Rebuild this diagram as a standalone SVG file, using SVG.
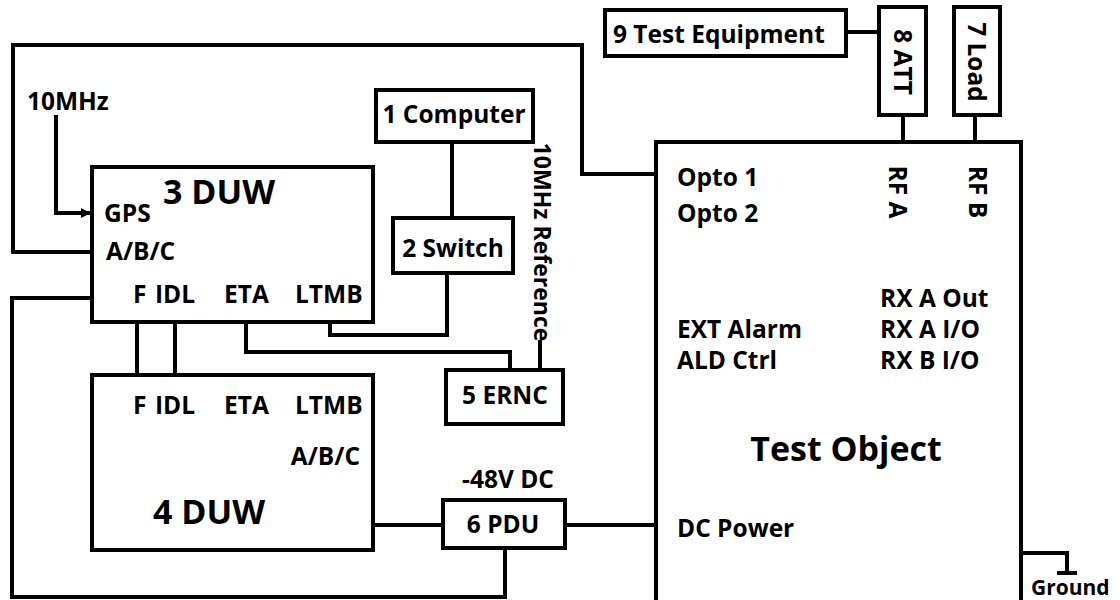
<svg xmlns="http://www.w3.org/2000/svg" width="1120" height="600" viewBox="0 0 1120 600">
<defs>
<style>
.box{fill:#fff;stroke:#000;stroke-width:4}
.ln{fill:none;stroke:#000;stroke-width:4}
text{font-family:"Open Sans","Noto Sans","DejaVu Sans",sans-serif;font-weight:bold;fill:#000}
.lb{font-size:24.5px}
.rt{font-size:23px}
.big{font-size:34px}
</style>
<marker id="arr" markerWidth="10" markerHeight="10" refX="9" refY="5" orient="auto" markerUnits="userSpaceOnUse">
<path d="M0,0 L10,5 L0,10 z" fill="#000"/>
</marker>
</defs>
<rect width="1120" height="600" fill="#fff"/>
<g id="connectors">
<path class="ln" d="M92,252 H13 V45 H582 V174 H656"/>
<path class="ln" d="M56,115 V213 H90" marker-end="url(#arr)"/>
<path class="ln" d="M92,298 H12 V597 H505 V548"/>
<path class="ln" d="M137,322 V375"/>
<path class="ln" d="M175,322 V375"/>
<path class="ln" d="M246,322 V352 H510 V370"/>
<path class="ln" d="M330,322 V335 H447 V273"/>
<path class="ln" d="M452,142 V218"/>
<path class="ln" d="M540,370 V340"/>
<path class="ln" d="M373,525 H443"/>
<path class="ln" d="M565,525 H656"/>
<path class="ln" d="M846,32 H879"/>
<path class="ln" d="M903,115 V142"/>
<path class="ln" d="M975,115 V142"/>
<path class="ln" d="M1021,553 H1067 V573"/>
<path class="ln" d="M1057,573 H1077"/>
</g>
<g id="n3duw">
<rect class="box" x="92" y="167" width="281" height="155"/>
<text class="big" x="163" y="204">3 DUW</text>
<text class="lb" x="104" y="222">GPS</text>
<text class="lb" x="106" y="260">A/B/C</text>
<text class="lb" x="133" y="303">F</text>
<text class="lb" x="155" y="303">IDL</text>
<text class="lb" x="224" y="303">ETA</text>
<text class="lb" x="295" y="303">LTMB</text>
</g>
<g id="n4duw">
<rect class="box" x="92" y="375" width="281" height="175"/>
<text class="lb" x="133" y="414">F</text>
<text class="lb" x="155" y="414">IDL</text>
<text class="lb" x="224" y="414">ETA</text>
<text class="lb" x="295" y="414">LTMB</text>
<text class="lb" x="360" y="465" text-anchor="end">A/B/C</text>
<text class="big" x="153" y="524">4 DUW</text>
</g>
<g id="n10mhz">
<text class="lb" x="27" y="110">10MHz</text>
</g>
<g id="n1computer">
<rect class="box" x="376" y="90" width="157" height="52"/>
<text class="lb" x="454" y="123" text-anchor="middle">1 Computer</text>
</g>
<g id="n2switch">
<rect class="box" x="393" y="218" width="120" height="55"/>
<text class="lb" x="453" y="257" text-anchor="middle">2 Switch</text>
</g>
<g id="nref">
<text class="rt" transform="translate(534,242) rotate(90)" text-anchor="middle">10MHz Reference</text>
</g>
<g id="n5ernc">
<rect class="box" x="446" y="370" width="117" height="54"/>
<text class="lb" x="505" y="404" text-anchor="middle">5 ERNC</text>
</g>
<g id="n6pdu">
<text class="lb" x="508" y="488" text-anchor="middle">-48V DC</text>
<rect class="box" x="443" y="500" width="122" height="48"/>
<text class="lb" x="503" y="533" text-anchor="middle">6 PDU</text>
</g>
<g id="n9test">
<rect class="box" x="605" y="10" width="241" height="46"/>
<text class="lb" x="613" y="43">9 Test Equipment</text>
</g>
<g id="n8att">
<rect class="box" x="879" y="7" width="47" height="108"/>
<text class="lb" transform="translate(894,62) rotate(90)" text-anchor="middle">8 ATT</text>
</g>
<g id="n7load">
<rect class="box" x="954" y="7" width="46" height="108"/>
<text class="lb" transform="translate(968,62) rotate(90)" text-anchor="middle">7 Load</text>
</g>
<g id="ntestobject">
<rect class="box" x="656" y="142" width="365" height="470"/>
<text class="lb" x="677" y="186">Opto 1</text>
<text class="lb" x="677" y="222">Opto 2</text>
<text class="lb" transform="translate(889,192) rotate(90)" text-anchor="middle">RF A</text>
<text class="lb" transform="translate(969,192) rotate(90)" text-anchor="middle">RF B</text>
<text class="lb" x="880" y="307">RX A Out</text>
<text class="lb" x="677" y="338">EXT Alarm</text>
<text class="lb" x="880" y="338">RX A I/O</text>
<text class="lb" x="677" y="369">ALD Ctrl</text>
<text class="lb" x="880" y="369">RX B I/O</text>
<text class="big" x="846" y="461" text-anchor="middle">Test Object</text>
<text class="lb" x="677" y="537">DC Power</text>
</g>
<g id="nground">
<text x="1031" y="595" style="font-size:21px">Ground</text>
</g>
</svg>
